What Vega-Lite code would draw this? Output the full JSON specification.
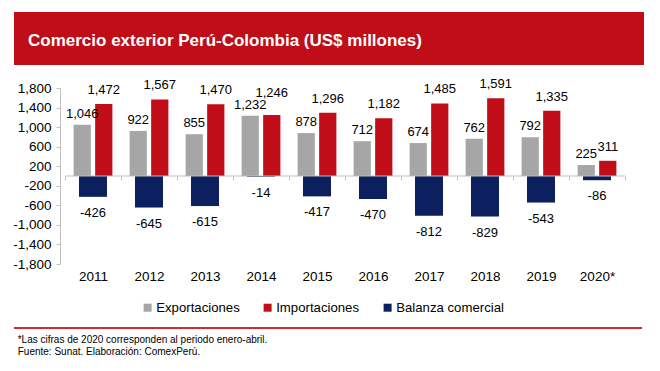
{
  "$schema": "https://vega.github.io/schema/vega-lite/v6.json",
  "background": "white",
  "padding": {"left": 12, "top": 12, "right": 0, "bottom": 0},
  "config": {
    "font": "Liberation Sans",
    "view": {"stroke": null},
    "locale": {"number": {"decimal": ".", "thousands": ",", "grouping": [3], "currency": ["$", ""], "minus": "-"}}
  },
  "datasets": {
    "comercio": [
      {"anio": "2011", "serie": "Exportaciones", "valor": 1046},
      {"anio": "2011", "serie": "Importaciones", "valor": 1472},
      {"anio": "2011", "serie": "Balanza comercial", "valor": -426},
      {"anio": "2012", "serie": "Exportaciones", "valor": 922},
      {"anio": "2012", "serie": "Importaciones", "valor": 1567},
      {"anio": "2012", "serie": "Balanza comercial", "valor": -645},
      {"anio": "2013", "serie": "Exportaciones", "valor": 855},
      {"anio": "2013", "serie": "Importaciones", "valor": 1470},
      {"anio": "2013", "serie": "Balanza comercial", "valor": -615},
      {"anio": "2014", "serie": "Exportaciones", "valor": 1232},
      {"anio": "2014", "serie": "Importaciones", "valor": 1246},
      {"anio": "2014", "serie": "Balanza comercial", "valor": -14},
      {"anio": "2015", "serie": "Exportaciones", "valor": 878},
      {"anio": "2015", "serie": "Importaciones", "valor": 1296},
      {"anio": "2015", "serie": "Balanza comercial", "valor": -417},
      {"anio": "2016", "serie": "Exportaciones", "valor": 712},
      {"anio": "2016", "serie": "Importaciones", "valor": 1182},
      {"anio": "2016", "serie": "Balanza comercial", "valor": -470},
      {"anio": "2017", "serie": "Exportaciones", "valor": 674},
      {"anio": "2017", "serie": "Importaciones", "valor": 1485},
      {"anio": "2017", "serie": "Balanza comercial", "valor": -812},
      {"anio": "2018", "serie": "Exportaciones", "valor": 762},
      {"anio": "2018", "serie": "Importaciones", "valor": 1591},
      {"anio": "2018", "serie": "Balanza comercial", "valor": -829},
      {"anio": "2019", "serie": "Exportaciones", "valor": 792},
      {"anio": "2019", "serie": "Importaciones", "valor": 1335},
      {"anio": "2019", "serie": "Balanza comercial", "valor": -543},
      {"anio": "2020*", "serie": "Exportaciones", "valor": 225},
      {"anio": "2020*", "serie": "Importaciones", "valor": 311},
      {"anio": "2020*", "serie": "Balanza comercial", "valor": -86}
    ],
    "uno": [{"k": 1}]
  },
  "title": {
    "text": ["*Las cifras de 2020 corresponden  al periodo enero-abril.", "Fuente: Sunat. Elaboración: ComexPerú."],
    "orient": "bottom",
    "anchor": "start",
    "fontSize": 10,
    "fontWeight": "normal",
    "font": "Liberation Sans",
    "color": "#000000",
    "lineHeight": 12,
    "offset": 6,
    "dx": 5
  },
  "spacing": 13,
  "align": "none",
  "vconcat": [
    {
      "width": 630,
      "height": 53,
      "view": {"fill": "#C00D17", "stroke": null},
      "data": {"name": "uno"},
      "mark": {"type": "rect", "opacity": 0},
      "encoding": {},
      "title": {
        "text": "Comercio exterior Perú-Colombia (US$ millones)",
        "anchor": "start",
        "orient": "top",
        "offset": -38,
        "dx": 14,
        "color": "#FFFFFF",
        "fontSize": 17,
        "fontWeight": "bold",
        "font": "Liberation Sans"
      }
    },
    {
      "spacing": 44,
      "vconcat": [
        {
          "width": 611,
          "height": 176,
          "data": {"name": "comercio"},
          "encoding": {
            "x": {
              "field": "anio",
              "type": "nominal",
              "sort": null,
              "scale": {"paddingInner": 0, "paddingOuter": 0.4554, "align": 1},
              "axis": {
                "title": null,
                "orient": "bottom",
                "offset": -88,
                "domain": false,
                "tickBand": "extent",
                "tickSize": 4,
                "tickColor": "#BFBFBF",
                "labelPadding": 89,
                "labelFontSize": 13.5,
                "labelColor": "#000000",
                "labelAngle": 0
              }
            },
            "y": {
              "field": "valor",
              "type": "quantitative",
              "scale": {"domain": [-1800, 1800], "nice": false},
              "axis": {
                "title": null,
                "values": [-1800, -1400, -1000, -600, -200, 200, 600, 1000, 1400, 1800],
                "labelExpr": "format(datum.value, ',')",
                "offset": -46,
                "tickSize": 4,
                "tickColor": "#BFBFBF",
                "domainColor": "#BFBFBF",
                "labelPadding": 5,
                "labelFontSize": 13.5,
                "labelColor": "#000000",
                "grid": false
              }
            }
          },
          "layer": [
            {
              "transform": [{"filter": "datum.serie !== 'Balanza comercial'"}],
              "mark": {"type": "bar"},
              "encoding": {
                "xOffset": {"field": "serie", "type": "nominal", "sort": ["Exportaciones", "Importaciones"], "scale": {"paddingInner": 0.2, "paddingOuter": 0.4}},
                "color": {
                  "field": "serie",
                  "type": "nominal",
                  "scale": {"domain": ["Exportaciones", "Importaciones", "Balanza comercial"], "range": ["#A6A6A6", "#C00D17", "#0C1F5E"]},
                  "legend": {
                    "orient": "none",
                    "legendX": 127,
                    "legendY": 289,
                    "direction": "horizontal",
                    "title": null,
                    "symbolType": "square",
                    "symbolSize": 64,
                    "symbolStrokeWidth": 0,
                    "symbolOpacity": 1,
                    "labelFontSize": 13.2,
                    "labelOffset": 2,
                    "labelColor": "#000000",
                    "columnPadding": 21,
                    "padding": 0
                  }
                }
              }
            },
            {
              "transform": [{"filter": "datum.serie === 'Exportaciones'"}],
              "mark": {"type": "text", "baseline": "bottom", "dy": -4, "fontSize": 13, "color": "#000000"},
              "encoding": {
                "xOffset": {"field": "serie", "type": "nominal", "sort": ["Exportaciones", "Importaciones"], "scale": {"paddingInner": 0.2, "paddingOuter": 0.4}},
                "text": {"field": "valor", "type": "quantitative", "format": ","}
              }
            },
            {
              "transform": [{"filter": "datum.serie === 'Importaciones' && datum.anio !== '2014'"}],
              "mark": {"type": "text", "baseline": "bottom", "dy": -7, "fontSize": 13, "color": "#000000"},
              "encoding": {
                "xOffset": {"field": "serie", "type": "nominal", "sort": ["Exportaciones", "Importaciones"], "scale": {"paddingInner": 0.2, "paddingOuter": 0.4}},
                "text": {"field": "valor", "type": "quantitative", "format": ","}
              }
            },
            {
              "transform": [{"filter": "datum.serie === 'Importaciones' && datum.anio === '2014'"}],
              "mark": {"type": "text", "baseline": "bottom", "dy": -15, "fontSize": 13, "color": "#000000"},
              "encoding": {
                "xOffset": {"field": "serie", "type": "nominal", "sort": ["Exportaciones", "Importaciones"], "scale": {"paddingInner": 0.2, "paddingOuter": 0.4}},
                "text": {"field": "valor", "type": "quantitative", "format": ","}
              }
            },
            {
              "transform": [{"filter": "datum.serie === 'Balanza comercial'"}],
              "mark": {"type": "bar", "width": {"band": 0.5}},
              "encoding": {
                "color": {"field": "serie", "type": "nominal"}
              }
            },
            {
              "transform": [{"filter": "datum.serie === 'Balanza comercial'"}],
              "mark": {"type": "text", "baseline": "top", "dy": 10, "fontSize": 13, "color": "#000000"},
              "encoding": {
                "text": {"field": "valor", "type": "quantitative", "format": ","}
              }
            },
            {
              "data": {"values": [{"desde": "2011", "hasta": "2020*", "cero": 0}]},
              "mark": {"type": "rule", "color": "#BFBFBF", "strokeWidth": 1},
              "encoding": {
                "x": {"field": "desde", "type": "nominal", "bandPosition": 0},
                "x2": {"field": "hasta", "bandPosition": 1},
                "y": {"field": "cero", "type": "quantitative"}
              }
            }
          ]
        },
        {
          "width": 628,
          "height": 2,
          "view": {"fill": "#D42A35", "stroke": null},
          "data": {"name": "uno"},
          "mark": {"type": "rect", "opacity": 0},
          "encoding": {}
        }
      ]
    }
  ]
}
